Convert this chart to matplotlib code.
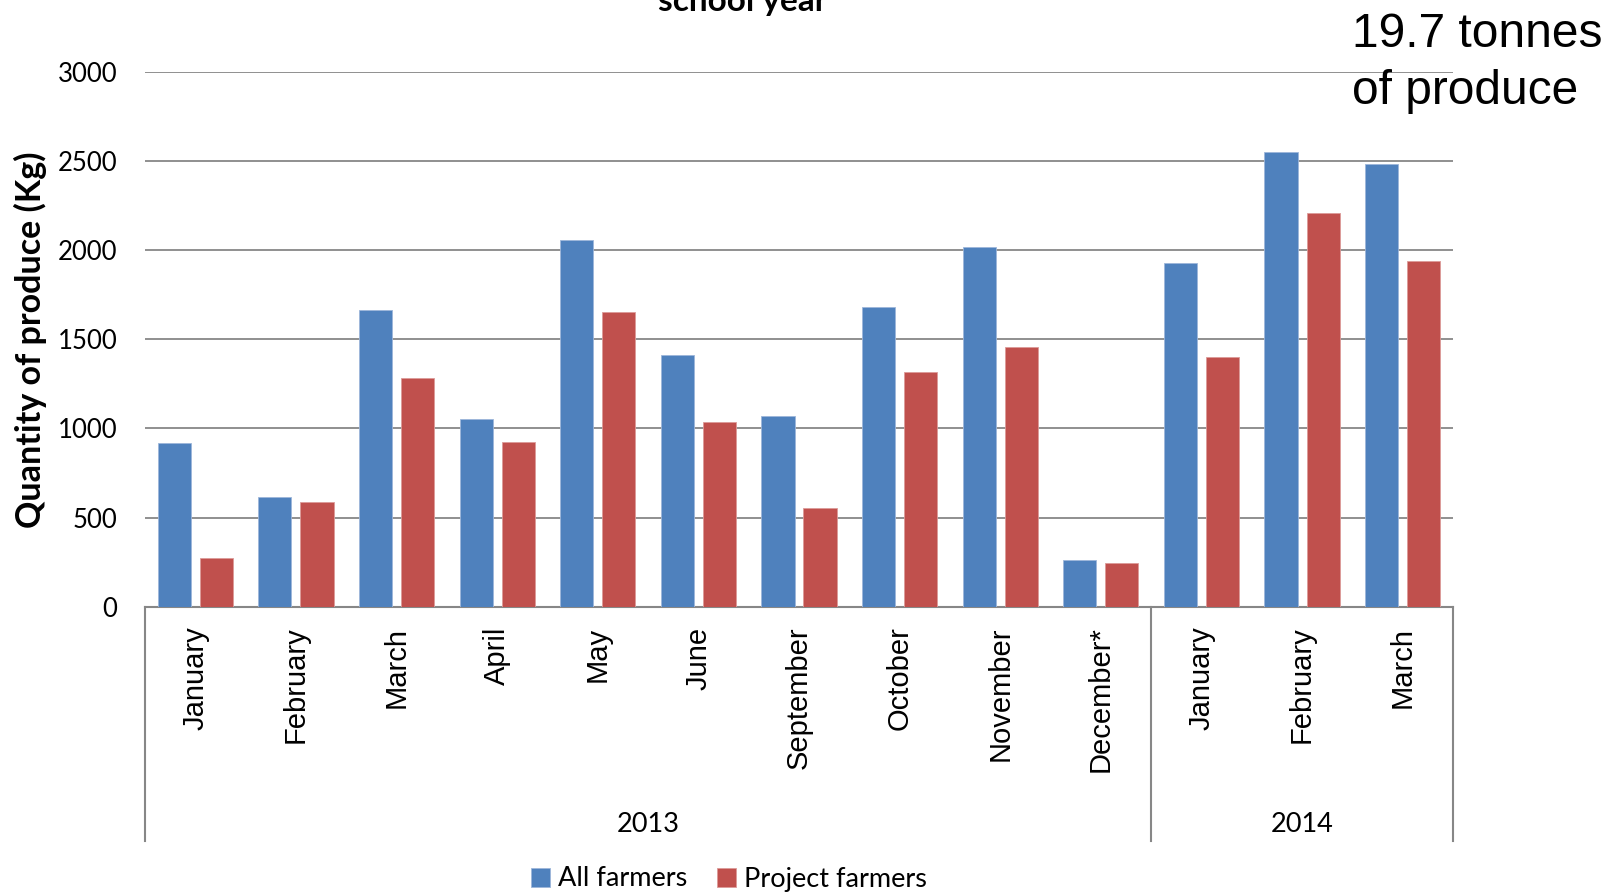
import matplotlib.pyplot as plt
import numpy as np

# Monthly produce delivered (kg)
months = ["January", "February", "March", "April", "May", "June", "September",
          "October", "November", "December*", "January", "February", "March"]
years = ["2013", "2014"]
months_per_year = [10, 3]
all_farmers = [917, 615, 1665, 1050, 2054, 1410, 1068, 1683, 2019, 261, 1927, 2547, 2484]
project_farmers = [273, 586, 1282, 923, 1654, 1033, 551, 1317, 1456, 244, 1398, 2205, 1938]

W, H = 1621, 892
fig = plt.figure(figsize=(W / 100, H / 100), dpi=100)

# axes box in pixels: left 145, right 1453, top 71.7, bottom 606.7
left, right, top, bottom = 145, 1453, 71.7, 606.7
ax = fig.add_axes([left / W, 1 - bottom / H, (right - left) / W, (bottom - top) / H])

blue = "#4F81BD"
red = "#C0504D"
grid_c = "#878787"
x = np.arange(len(months))
bw = 0.33
off = 0.209
ax.bar(x - off, all_farmers, bw, color=blue, edgecolor="#9DB6DA", linewidth=0.6,
       label="All farmers", zorder=3)
ax.bar(x + off, project_farmers, bw, color=red, edgecolor="#DC9A98", linewidth=0.6,
       label="Project farmers", zorder=3)

ax.set_xlim(-0.5, len(months) - 0.5)
ax.set_ylim(0, 3000)
ax.set_yticks(range(0, 3001, 500))
ax.yaxis.grid(True, color=grid_c, linewidth=1.3, zorder=0)
ax.set_axisbelow(True)
for s in ["left", "right", "top"]:
    ax.spines[s].set_visible(False)
ax.spines["bottom"].set_color(grid_c)
ax.spines["bottom"].set_linewidth(1.5)
ax.tick_params(axis="y", length=0, pad=20, labelsize=18.5)
ax.tick_params(axis="x", length=0)
for lab in ax.get_yticklabels():
    lab.set_fontfamily("Lato")
ax.set_xticks([])

# two-level category axis below the plot
ax_h = bottom - top
y_end = -(841 - bottom) / ax_h
trans = ax.get_xaxis_transform()
edges = np.concatenate([[-0.5], np.cumsum(months_per_year) - 0.5])
for e in edges:
    ax.plot([e, e], [0, y_end], color=grid_c, linewidth=1.5, transform=trans, clip_on=False)
for i, m in enumerate(months):
    ax.text(i, -(626.5 - bottom) / ax_h, m, rotation=90, ha="center", va="top",
            fontsize=21, family="Liberation Sans", transform=trans)
start = -0.5
for yr, n in zip(years, months_per_year):
    ax.text(start + n / 2, -(825 - bottom) / ax_h, yr, ha="center", va="center",
            fontsize=19.5, family="Lato", transform=trans)
    start += n

fig.text(30 / W, 1 - 340 / H, "Quantity of produce (Kg)", rotation=90,
         ha="center", va="center", fontsize=24.5, fontweight="bold", family="Lato")

fig.legend(loc="center", bbox_to_anchor=(729 / W, 1 - 879 / H), ncol=2, frameon=False,
           prop={"family": "Lato", "size": 19.5}, handlelength=0.7, handleheight=0.7,
           handletextpad=0.3, columnspacing=1.1)

fig.text(743 / W, 1 - 11 / H, "school year", ha="center", va="baseline",
         fontsize=24, fontweight="bold", family="Lato")
fig.text(1352 / W, 1 - 47 / H, "19.7 tonnes", ha="left", va="baseline",
         fontsize=34.5, family="Liberation Sans")
fig.text(1352 / W, 1 - 104 / H, "of produce", ha="left", va="baseline",
         fontsize=34.5, family="Liberation Sans")

fig.savefig("out.png", dpi=100)
